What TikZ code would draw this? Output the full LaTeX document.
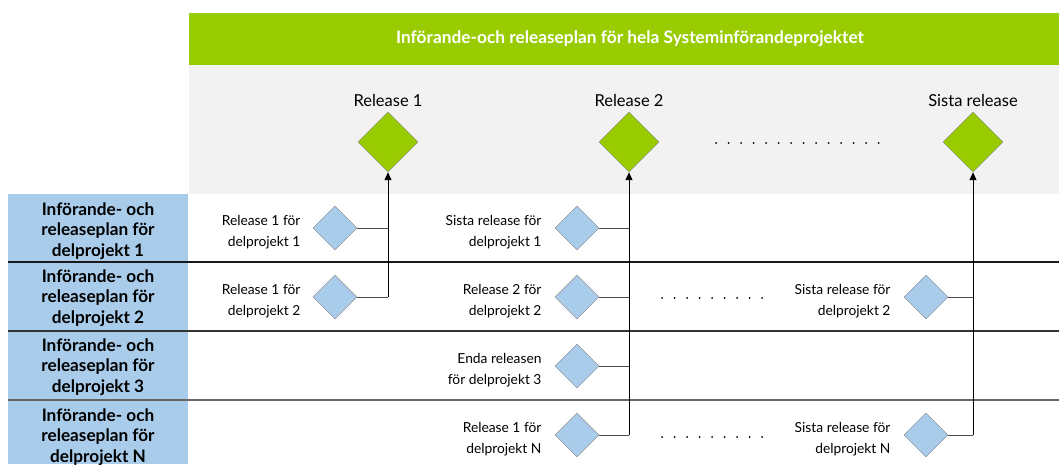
\documentclass[tikz,border=0pt]{standalone}
\usepackage{fontspec}
\setmainfont{Lato}
\usetikzlibrary{shapes.geometric,arrows.meta}
\definecolor{headgreen}{HTML}{99CC00}
\definecolor{bandgray}{HTML}{F2F2F2}
\definecolor{planblue}{HTML}{A9CCEB}
\definecolor{edgegray}{HTML}{808080}

\begin{document}
\begin{tikzpicture}[x=1pt,y=-1pt,
  release/.style={diamond,draw=edgegray,fill=headgreen,minimum width=60pt,minimum height=60pt,inner sep=0pt},
  subrel/.style={diamond,draw=edgegray,fill=planblue,minimum width=44pt,minimum height=44pt,inner sep=0pt},
  plan/.style={font=\fontsize{17.2}{20.5}\selectfont\bfseries,align=center},
  note/.style={font=\fontsize{13.8}{21}\selectfont,align=right,anchor=east},
  headlabel/.style={font=\fontsize{16.5}{18}\selectfont},
  stem/.style={draw=black,line width=1pt,-{Triangle[length=8pt,width=7pt]}},
  twig/.style={draw=black!70,line width=1pt},
  rowline/.style={line width=1.2pt},
  dotrow/.style={line width=2pt,line cap=round,dash pattern=on 0pt off 12.5pt}]
  \useasboundingbox (0,0) rectangle (1059,464);

  % Header part of the Figure
  \fill[headgreen] (189,13) rectangle (1059,65);
  \fill[bandgray]  (189,65) rectangle (1059,194);
  \node[white,font=\fontsize{17.3}{19}\selectfont\bfseries] (title) at (630,39) {Införande-och releaseplan för hela Systeminförandeprojektet};
  \node[release] (r1) at (388,142) {};
  \node[release] (r2) at (629,142) {};
  \node[release] (rN) at (973,142) {};
  \node[headlabel] (lr1) at (388,100) {Release 1};
  \node[headlabel] (lr2) at (629,100) {Release 2};
  \node[headlabel] (lrN) at (973,100) {Sista release};
  \draw[dotrow] (716,143) -- (879,143);

  % Left part of the Figure
  \fill[planblue] (8,194) rectangle (188,464);
  \node[plan] (p1) at (98,231) {Införande- och\\releaseplan för\\delprojekt 1};
  \node[plan] (p2) at (98,298) {Införande- och\\releaseplan för\\delprojekt 2};
  \node[plan] (p3) at (98,367) {Införande- och\\releaseplan för\\delprojekt 3};
  \node[plan] (p4) at (98,437) {Införande- och\\releaseplan för\\delprojekt N};
  \draw[rowline,black!90] (8,262) -- (1059,262);
  \draw[rowline,black!80] (8,331) -- (1059,331);
  \draw[rowline,black!60] (8,400) -- (1059,400);

  % Sub releases
  \node[subrel] (d11) at (335,228) {};
  \node[subrel] (d21) at (335,297) {};
  \node[subrel] (d12) at (577,228) {};
  \node[subrel] (d22) at (577,297) {};
  \node[subrel] (d32) at (577,366) {};
  \node[subrel] (d42) at (577,435) {};
  \node[subrel] (d23) at (926,297) {};
  \node[subrel] (d43) at (926,435) {};
  \node[note] (n11) at (304,232) {Release 1 för\\delprojekt 1};
  \node[note] (n21) at (304,301) {Release 1 för\\delprojekt 2};
  \node[note] (n12) at (545,232) {Sista release för\\delprojekt 1};
  \node[note] (n22) at (545,301) {Release 2 för\\delprojekt 2};
  \node[note] (n32) at (545,370) {Enda releasen\\för delprojekt 3};
  \node[note] (n42) at (545,439) {Release 1 för\\delprojekt N};
  \node[note] (n23) at (894,301) {Sista release för\\delprojekt 2};
  \node[note] (n43) at (894,439) {Sista release för\\delprojekt N};
  \draw[dotrow] (662,298) -- (763,298);
  \draw[dotrow] (662,437) -- (763,437);

  % Connectors
  \draw[twig] (d11.east) -- (d11.east -| r1.south);
  \draw[twig] (d21.east) -- (d21.east -| r1.south);
  \draw[stem] (d21.east -| r1.south) -- (r1.south);
  \draw[twig] (d12.east) -- (d12.east -| r2.south);
  \draw[twig] (d22.east) -- (d22.east -| r2.south);
  \draw[twig] (d32.east) -- (d32.east -| r2.south);
  \draw[twig] (d42.east) -- (d42.east -| r2.south);
  \draw[stem] (d42.east -| r2.south) -- (r2.south);
  \draw[twig] (d23.east) -- (d23.east -| rN.south);
  \draw[twig] (d43.east) -- (d43.east -| rN.south);
  \draw[stem] (d43.east -| rN.south) -- (rN.south);
\end{tikzpicture}
\end{document}
